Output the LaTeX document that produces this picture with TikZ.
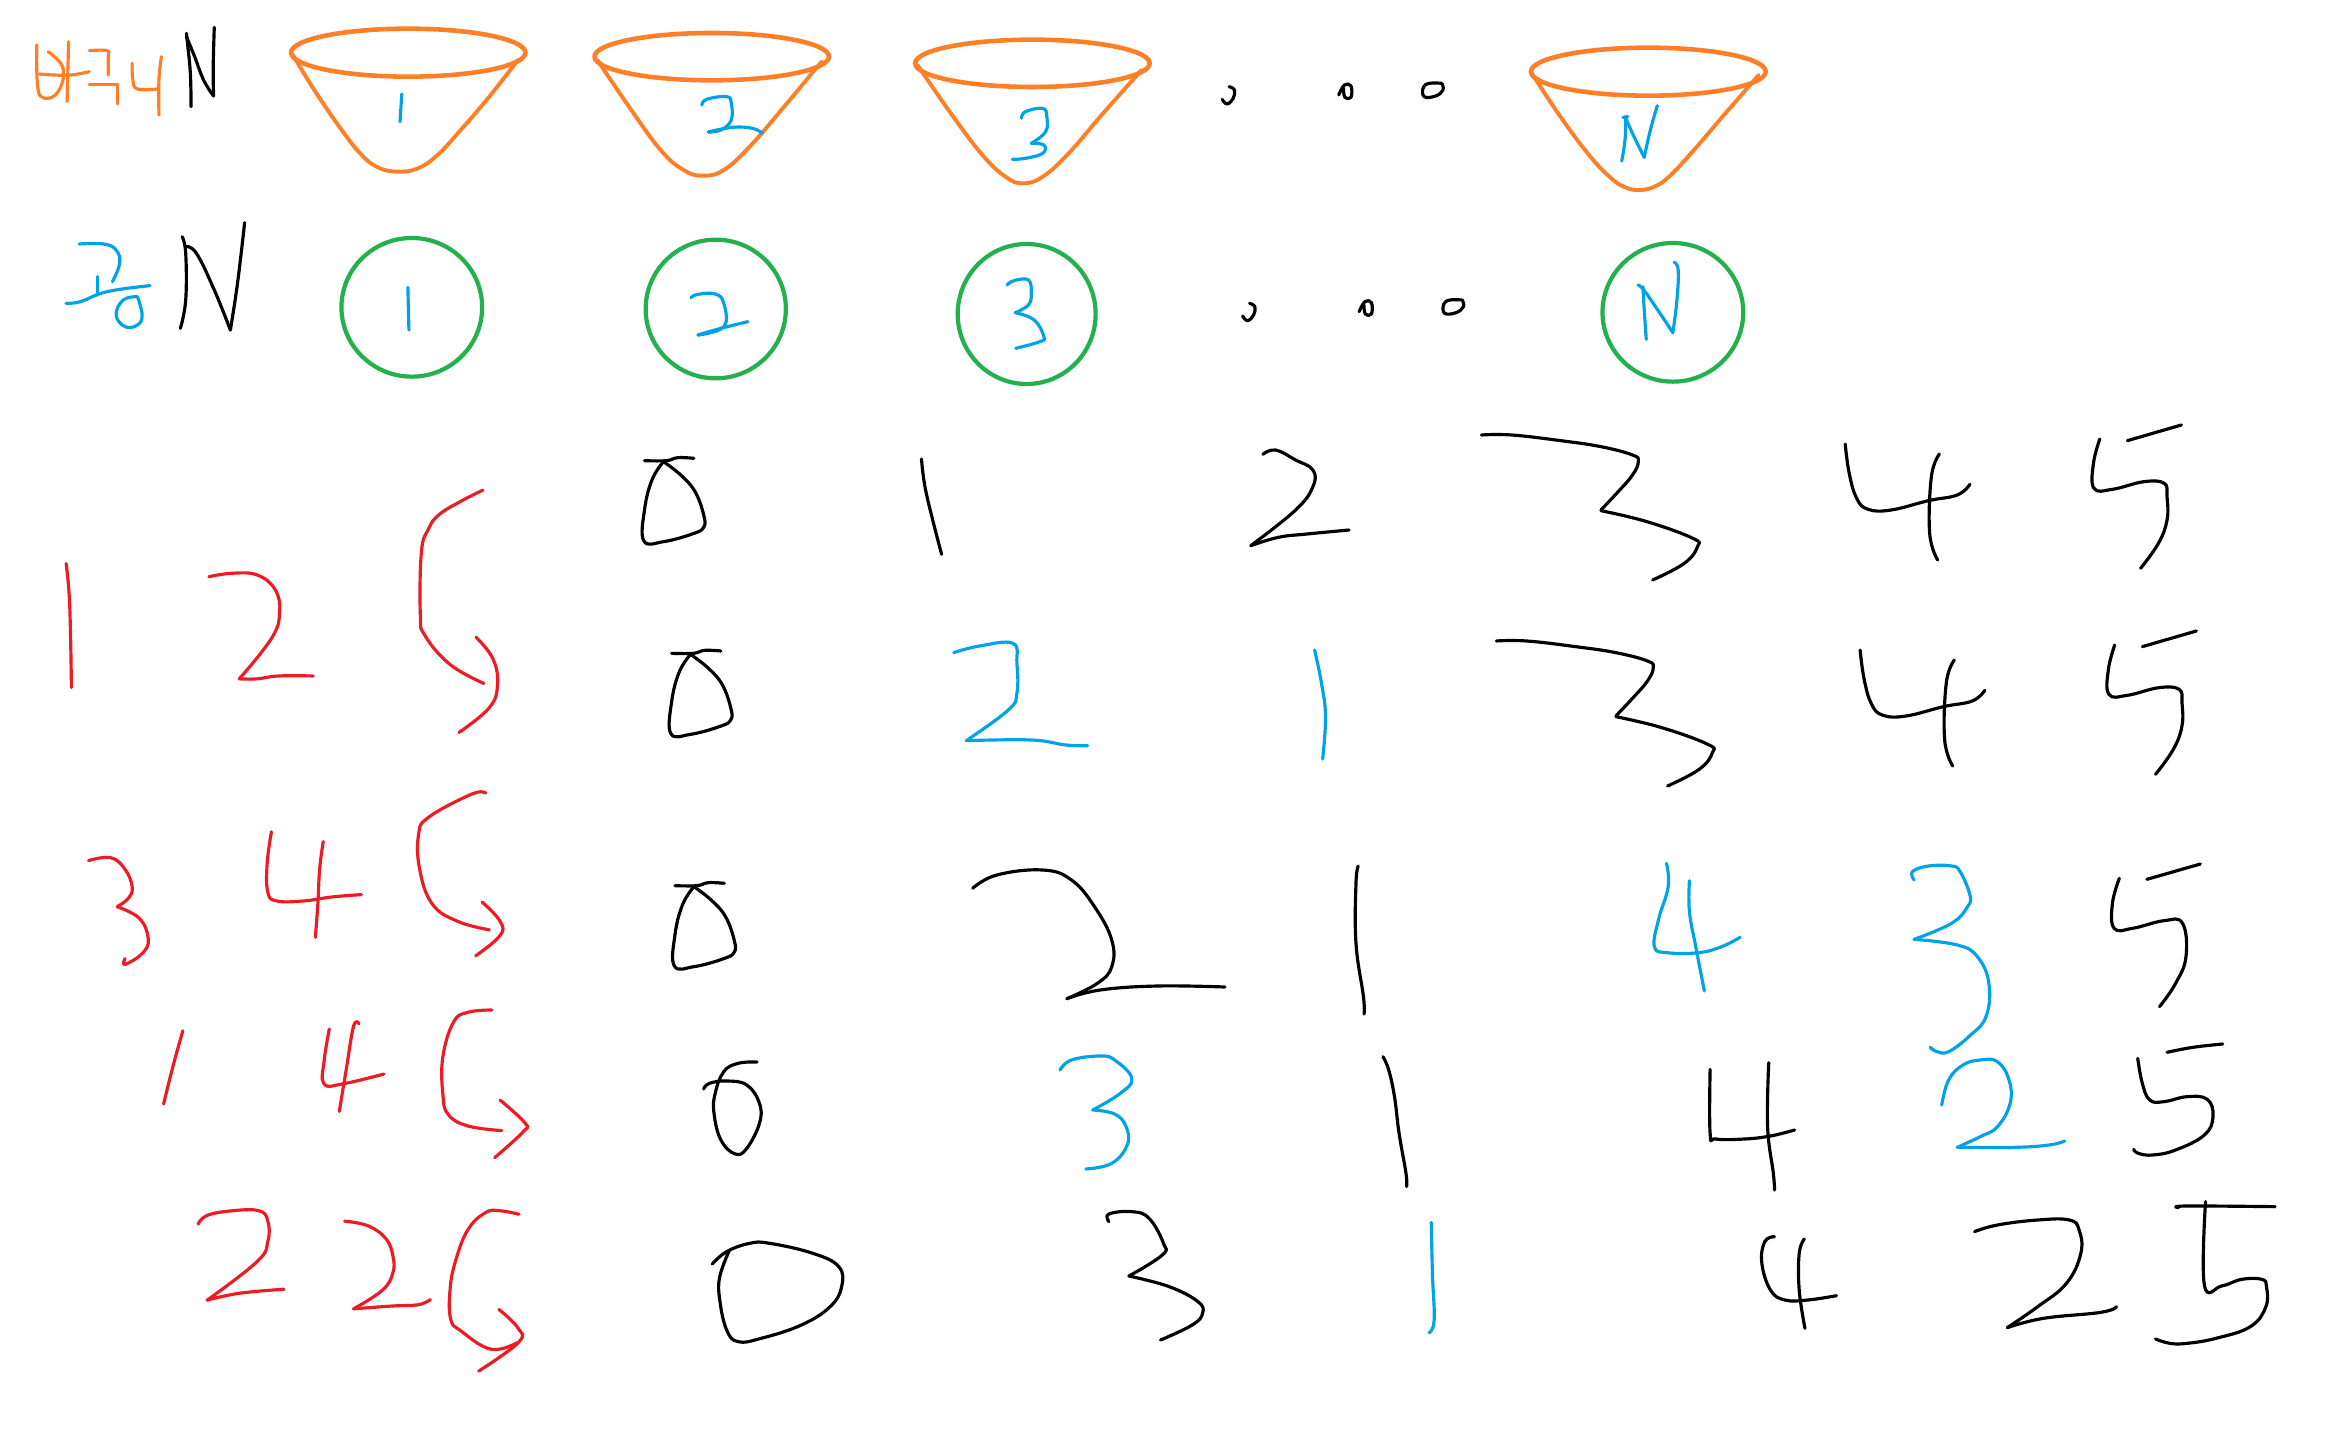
\documentclass[tikz,border=0pt]{standalone}
\definecolor{inkorange}{HTML}{FF7F27}
\definecolor{inkgreen}{HTML}{22B14C}
\definecolor{inkblue}{HTML}{00A2E8}
\definecolor{inkred}{HTML}{ED1C24}
\tikzset{
  pen/.style={line cap=round,line join=round,line width=1.8pt},
  blk/.style={pen,black},
  blu/.style={pen,inkblue},
  rdp/.style={pen,inkred},
  ora/.style={pen,inkorange},
  orab/.style={pen,inkorange,line width=2.6pt},
  grn/.style={pen,inkgreen,line width=2.4pt},
}
\newcommand\pn[2]{\draw[#1] plot[smooth,tension=.7] coordinates {#2};}
\newcommand\zeroshape{%
  \pn{blk}{(147,182)(185,182)(205,173)(233,175)}
  \pn{blk}{(180,185)(160,240)(147,330)(146,423)(180,425)(230,402)(250,382)(250,345)(235,275)(210,225)(180,185)}}
\newcommand\threefourfive{%
  \pn{blk}{(72,105)(125,105)(210,122)(280,140)(335,165)(345,185)(335,225)(310,275)(280,330)}
  \pn{blk}{(280,332)(360,365)(440,415)(448,440)(425,490)(370,540)}
  \pn{blk}{(705,132)(712,220)(725,295)(745,328)(785,330)(850,302)(900,285)(922,253)}
  \pn{blk}{(869,162)(855,230)(852,400)(866,480)}
  \pn{blk}{(1148,117)(1137,190)(1138,265)(1170,268)(1225,245)(1260,250)(1265,290)(1265,360)(1250,430)(1219,505)}
  \pn{blk}{(1196,122)(1290,75)}}
\newcommand\threedots{%
  \pn{blk}{(120,260)(133,270)(130,295)(115,312)(103,298)}
  \pn{blk}{(388,285)(402,255)(418,258)(418,292)(403,292)(400,265)}
  \pn{blk}{(640,250)(610,250)(595,262)(597,290)(625,288)(643,270)(640,250)}}
\begin{document}
\begin{tikzpicture}[x=0.02cm,y=-0.02cm]
\useasboundingbox (0,0) rectangle (2348,1442);
\fill[white] (0,0) rectangle (2348,1442);

% top-left labels and first bucket / ball
\begin{scope}[xscale=0.35714,yscale=0.33333]
  \pn{ora}{(103,135)(103,215)(107,270)(115,290)(135,295)(155,285)(170,260)(178,225)(170,190)(135,155)}
  \pn{ora}{(192,125)(188,305)}
  \pn{ora}{(110,222)(150,225)(200,225)(250,215)}
  \pn{ora}{(250,152)(300,152)(303,170)(303,225)}
  \pn{ora}{(250,253)(330,253)}
  \pn{ora}{(328,253)(328,312)}
  \pn{ora}{(370,190)(372,240)(385,267)(440,267)}
  \pn{ora}{(452,170)(445,240)(445,345)}
  \pn{blk}{(535,320)(533,220)(525,130)(522,100)}
  \pn{blk}{(522,110)(545,170)(570,240)(598,288)}
  \pn{blk}{(598,288)(597,200)(600,82)}
  \draw[orab] (1143,158) ellipse [x radius=328,y radius=72];
  \pn{ora,line width=2.2pt}{(820,165)(880,270)(950,380)(1010,462)(1060,503)(1115,515)(1170,505)(1225,465)(1290,390)(1370,290)(1450,180)}
  \pn{blu}{(1125,282)(1120,365)}
  \draw[grn] (1153,922) ellipse [x radius=197,y radius=208];
  \pn{blu}{(1142,862)(1145,990)}
  \pn{blu}{(222,732)(290,732)(325,750)(335,790)(315,845)}
  \pn{blu}{(272,830)(272,885)}
  \pn{blu}{(185,910)(225,905)(300,875)(420,857)}
  \pn{blu}{(385,890)(345,900)(325,945)(350,980)(385,975)(398,945)(385,890)}
  \pn{blk}{(510,710)(520,760)(520,900)(505,985)}
  \pn{blk}{(520,740)(550,760)(600,870)(645,990)}
  \pn{blk}{(645,990)(665,850)(685,668)}
\end{scope}

% buckets and balls 2, 3
\begin{scope}[shift={(560,0)},xscale=0.57471,yscale=0.33333]
  \draw[orab] (264,170) ellipse [x radius=204,y radius=71];
  \pn{ora,line width=2.2pt}{(65,180)(120,320)(175,450)(215,510)(248,527)(285,510)(330,440)(390,320)(455,185)}
  \pn{blu}{(247,315)(255,298)(290,290)(298,310)(298,360)(280,390)(258,396)}
  \pn{blu}{(258,396)(300,382)(335,385)(352,400)}
  \draw[orab] (822,190) ellipse [x radius=204,y radius=71];
  \pn{ora,line width=2.2pt}{(622,195)(680,340)(735,465)(775,530)(805,550)(840,530)(885,460)(945,340)(1012,210)}
  \pn{blu}{(803,355)(810,335)(840,325)(847,350)(845,395)(820,430)}
  \pn{blu}{(820,430)(842,435)(840,460)(810,475)(787,478)}
  \draw[grn] (271,927) ellipse [x radius=122,y radius=208];
  \draw[grn] (812,942) ellipse [x radius=120,y radius=210];
  \pn{blu}{(228,893)(240,883)(270,882)(285,910)(285,980)(240,1005)}
  \pn{blu}{(240,1005)(280,985)(327,965)}
  \pn{blu}{(778,855)(790,842)(815,840)(820,880)(815,915)(792,938)}
  \pn{blu}{(792,938)(825,960)(842,1010)(835,1025)(793,1045)}
\end{scope}

% dots and bucket / ball N
\begin{scope}[shift={(1180,0)},xscale=0.40900,yscale=0.33333]
  \threedots
  \begin{scope}[shift={(50,650)}]\threedots\end{scope}
  \draw[orab] (1145,215) ellipse [x radius=287,y radius=72];
  \pn{ora,line width=2.2pt}{(860,220)(930,350)(1000,465)(1050,530)(1085,560)(1120,570)(1160,560)(1200,525)(1260,445)(1330,345)(1415,225)}
  \pn{blu}{(1080,483)(1088,420)(1090,350)}
  \pn{blu}{(1083,352)(1095,350)}
  \pn{blu}{(1090,355)(1110,410)(1135,472)}
  \pn{blu}{(1135,472)(1150,390)(1167,317)}
  \draw[grn] (1205,937) ellipse [x radius=172,y radius=208];
  \pn{blu}{(1140,1018)(1135,930)(1132,860)}
  \pn{blu}{(1120,855)(1140,880)(1205,998)}
  \pn{blu}{(1205,998)(1215,900)(1218,810)(1208,787)}
\end{scope}

% red column
\begin{scope}[shift={(0,500)},xscale=0.35714,yscale=0.57692]
  \pn{rdp}{(185,110)(195,180)(200,325)}
  \pn{rdp}{(585,133)(650,127)(720,130)(770,155)(783,195)(760,240)(670,310)}
  \pn{rdp}{(670,310)(720,310)(780,305)(877,305)}
  \pn{rdp}{(1352,-17)(1297,0)(1230,25)(1200,50)(1180,90)(1177,200)(1190,235)(1260,285)(1355,318)}
  \pn{rdp}{(1333,238)(1380,275)(1393,320)(1370,360)(1285,403)}
  \pn{rdp}{(248,625)(310,620)(350,640)(370,670)(360,690)(328,705)}
  \pn{rdp}{(328,705)(390,725)(415,760)(400,785)(350,805)(350,795)}
  \pn{rdp}{(760,575)(748,630)(750,680)(775,695)(850,695)(930,688)(1012,684)}
  \pn{rdp}{(905,592)(895,640)(890,700)(883,758)}
  \pn{rdp}{(1360,508)(1320,510)(1200,550)(1172,580)(1175,640)(1210,700)(1280,730)(1370,745)}
  \pn{rdp}{(1350,697)(1400,730)(1400,755)(1332,790)}
  \pn{rdp}{(512,920)(485,980)(458,1047)}
  \pn{rdp}{(922,917)(908,970)(907,1012)(960,1012)(1075,995)}
  \pn{rdp}{(1005,908)(990,912)(970,985)(950,1060)}
  \pn{rdp}{(1377,884)(1310,888)(1270,905)(1240,965)(1240,1030)(1255,1065)(1310,1085)(1405,1093)}
  \pn{rdp}{(1400,1040)(1470,1080)(1465,1095)(1385,1140)}
  \pn{rdp}{(555,1255)(580,1240)(650,1232)(725,1232)(750,1250)(750,1285)(720,1320)(580,1387)}
  \pn{rdp}{(580,1387)(670,1375)(795,1368)}
  \pn{rdp}{(965,1250)(1030,1258)(1080,1280)(1100,1310)(1100,1340)(1070,1370)(990,1402)}
  \pn{rdp}{(990,1402)(1100,1397)(1170,1395)(1205,1386)}
  \pn{rdp}{(1453,1238)(1400,1232)(1360,1235)(1310,1265)(1275,1320)(1260,1370)(1262,1420)(1290,1440)(1375,1472)(1450,1460)}
  \pn{rdp}{(1397,1403)(1450,1435)(1452,1460)(1340,1510)}
\end{scope}

% rows 1 and 2, left part
\begin{scope}[shift={(560,400)},xscale=0.57471,yscale=0.33333]
  \zeroshape
  \begin{scope}[shift={(47,578)}]\zeroshape\end{scope}
  \pn{blk}{(629,177)(635,260)(650,370)(664,463)}
  \pn{blk}{(1223,163)(1245,150)(1280,180)(1310,210)(1310,260)(1280,330)(1202,437)}
  \pn{blk}{(1202,437)(1250,412)(1300,402)(1373,390)}
  \pn{blu}{(685,758)(730,738)(788,730)(795,790)(795,880)(780,930)(707,1022)}
  \pn{blu}{(707,1022)(820,1020)(880,1035)(918,1037)}
  \pn{blu}{(1313,750)(1325,850)(1332,950)(1327,1077)}
\end{scope}

% rows 1 and 2, right part
\begin{scope}[shift={(1440,400)},xscale=0.57471,yscale=0.33333]
  \threefourfive
  \begin{scope}[shift={(26,618)}]\threefourfive\end{scope}
\end{scope}

% rows 3 to 5, left part
\begin{scope}[shift={(560,840)},xscale=0.57471,yscale=0.33333]
  \begin{scope}[shift={(53,-45)}]\zeroshape\end{scope}
  \pn{blk}{(718,145)(760,105)(840,90)(890,120)(930,200)(960,300)(960,380)(935,430)(882,476)}
  \pn{blk}{(882,476)(940,450)(1040,438)(1157,441)}
  \pn{blk}{(1389,78)(1385,130)(1385,310)(1398,470)(1399,522)}
  \pn{blk}{(343,666)(310,670)(285,695)(270,760)(268,820)(280,900)(305,942)(325,925)(347,850)(347,790)(325,735)(290,723)(260,730)(250,747)}
  \pn{blu}{(870,690)(890,660)(940,648)(965,660)(995,715)(975,760)(927,810)}
  \pn{blu}{(927,810)(965,822)(985,860)(987,915)(960,970)(915,987)}
  \pn{blk}{(1432,650)(1442,690)(1452,770)(1460,880)(1472,1000)(1473,1040)}
  \pn{blk}{(265,1272)(290,1235)(330,1210)(365,1210)(440,1240)(485,1280)(490,1340)(470,1400)(420,1455)(350,1495)(310,1505)(290,1470)(278,1380)(278,1310)(295,1230)}
  \pn{blk}{(955,1145)(955,1122)(995,1115)(1025,1135)(1050,1210)(1048,1245)(990,1308)}
  \pn{blk}{(990,1308)(1060,1340)(1110,1385)(1118,1420)(1100,1455)(1045,1500)}
  \pn{blu}{(1516,1147)(1518,1300)(1521,1440)(1512,1478)}
\end{scope}

% rows 3 to 5, right part
\begin{scope}[shift={(1440,840)},xscale=0.57471,yscale=0.33333]
  \pn{blu}{(394,70)(397,140)(380,240)(373,320)(395,338)(450,338)(490,320)(522,292)}
  \pn{blu}{(434,122)(434,215)(445,320)(460,453)}
  \pn{blu}{(825,120)(822,95)(850,78)(890,78)(905,95)(922,165)(918,200)(890,250)(825,298)}
  \pn{blu}{(825,298)(900,315)(935,350)(955,430)(950,530)(920,590)(885,635)(865,635)(853,622)}
  \pn{blk}{(1182,115)(1170,190)(1173,265)(1205,265)(1260,242)(1292,250)(1298,350)(1280,430)(1252,500)}
  \pn{blk}{(1230,118)(1323,72)}
  \pn{blk}{(470,688)(470,880)(480,897)(530,897)(575,888)(617,870)}
  \pn{blk}{(572,668)(570,860)(580,1000)(582,1050)}
  \pn{blu}{(873,795)(885,720)(910,675)(940,660)(970,665)(990,720)(992,790)(970,860)(940,890)(900,922)}
  \pn{blu}{(900,922)(1000,922)(1060,915)(1087,903)}
  \pn{blk}{(1214,655)(1222,730)(1235,780)(1260,785)(1300,770)(1335,778)(1345,830)(1330,885)(1280,930)(1240,945)(1215,940)(1207,928)}
  \pn{blk}{(1265,637)(1310,622)(1362,612)}
  \pn{blk}{(582,1190)(565,1205)(560,1270)(575,1350)(600,1380)(640,1380)(690,1367)}
  \pn{blk}{(634,1197)(625,1240)(625,1350)(635,1465)}
  \pn{blk}{(930,1175)(970,1155)(1040,1140)(1095,1140)(1112,1170)(1115,1240)(1090,1330)(1040,1400)(987,1463)}
  \pn{blk}{(987,1463)(1050,1435)(1150,1417)(1177,1400)}
  \pn{blk}{(1285,1103)(1300,1098)(1453,1100)}
  \pn{blk}{(1332,1085)(1330,1335)(1360,1338)(1395,1318)(1430,1318)(1438,1340)(1437,1400)(1410,1460)(1350,1495)(1300,1510)(1270,1510)(1245,1497)}
\end{scope}
\end{tikzpicture}
\end{document}
